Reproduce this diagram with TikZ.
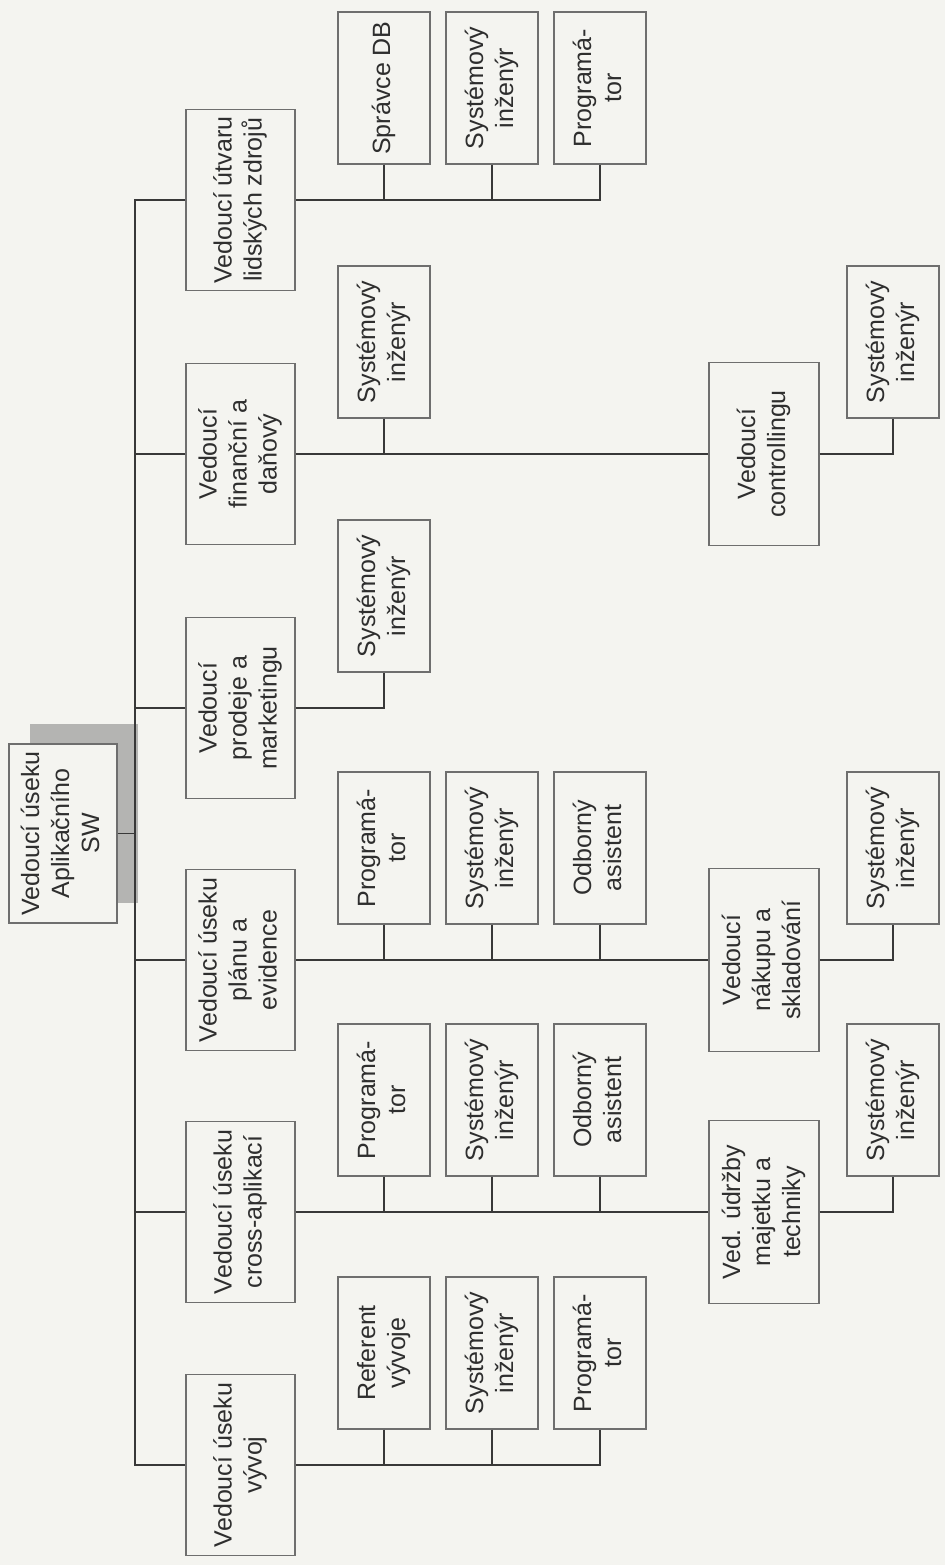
\documentclass[tikz,border=0pt]{standalone}
\usepackage{fontspec}
\setmainfont{Liberation Sans}
\usepackage{graphicx}
\usepackage{xcolor}
\usetikzlibrary{positioning}

\definecolor{paper}{HTML}{F4F4F0}
\definecolor{ink}{HTML}{2E2E2E}
\definecolor{boxline}{HTML}{6E6E6E}
\definecolor{wire}{HTML}{383838}
\definecolor{shadowgray}{HTML}{B4B4B2}

% text turned on its side, lines stacked
\newcommand{\vtext}[1]{\rotatebox{90}{\begin{tabular}{@{}c@{}}#1\end{tabular}}}

\begin{document}
\begin{tikzpicture}[x=1pt,y=-1pt,
    box/.style={draw=boxline, fill=paper, line width=1.1pt, inner sep=0pt, text=ink,
        font=\fontsize{25}{30}\selectfont},
    chief/.style={box, minimum width=108pt, minimum height=179pt},
    unit/.style={box, minimum width=109pt, minimum height=181pt},
    staff/.style={box, minimum width=92pt, minimum height=152pt},
    sub/.style={box, minimum width=110pt, minimum height=183pt},
    link/.style={draw=wire, line width=1.5pt}]
        \def\xa{384} % first staff column
        \def\xb{492} % second staff column
        \def\xc{600} % third staff column
        \def\xs{764} % sub unit column
        \def\xt{893} % staff of sub unit
        \def\up{112} % staff above the branch line
        \useasboundingbox[fill=paper] (0,0) rectangle (945,1565);
        \coordinate (trunk) at (135,0);
        % head of the section with its shadow
        \fill[shadowgray] (30,724) rectangle (138,903);
        \node[chief] (head) at (63,833.5) {\vtext{Vedoucí úseku\\Aplikačního\\SW}};
        % units
        \node[unit] (hr) at (240.5,200) {\vtext{Vedoucí útvaru\\lidských zdrojů}};
        \node[unit] (fin) at (240.5,454) {\vtext{Vedoucí\\finanční a\\daňový}};
        \node[unit] (sales) at (240.5,708) {\vtext{Vedoucí\\prodeje a\\marketingu}};
        \node[unit] (plan) at (240.5,960) {\vtext{Vedoucí úseku\\plánu a\\evidence}};
        \node[unit] (cross) at (240.5,1212) {\vtext{Vedoucí úseku\\cross-aplikací}};
        \node[unit] (dev) at (240.5,1465) {\vtext{Vedoucí úseku\\vývoj}};
        % staff of the units
        \node[staff] (hrA) at (\xa,200-\up) {\vtext{Správce DB}};
        \node[staff] (hrB) at (\xb,200-\up) {\vtext{Systémový\\inženýr}};
        \node[staff] (hrC) at (\xc,200-\up) {\vtext{Programá-\\tor}};
        \node[staff] (finA) at (\xa,454-\up) {\vtext{Systémový\\inženýr}};
        \node[staff] (salesA) at (\xa,708-\up) {\vtext{Systémový\\inženýr}};
        \node[staff] (planA) at (\xa,960-\up) {\vtext{Programá-\\tor}};
        \node[staff] (planB) at (\xb,960-\up) {\vtext{Systémový\\inženýr}};
        \node[staff] (planC) at (\xc,960-\up) {\vtext{Odborný\\asistent}};
        \node[staff] (crossA) at (\xa,1212-\up) {\vtext{Programá-\\tor}};
        \node[staff] (crossB) at (\xb,1212-\up) {\vtext{Systémový\\inženýr}};
        \node[staff] (crossC) at (\xc,1212-\up) {\vtext{Odborný\\asistent}};
        \node[staff] (devA) at (\xa,1465-\up) {\vtext{Referent\\vývoje}};
        \node[staff] (devB) at (\xb,1465-\up) {\vtext{Systémový\\inženýr}};
        \node[staff] (devC) at (\xc,1465-\up) {\vtext{Programá-\\tor}};
        % sub units and their staff
        \node[sub] (ctrl) at (\xs,454) {\vtext{Vedoucí\\controllingu}};
        \node[sub] (buy) at (\xs,960) {\vtext{Vedoucí\\nákupu a\\skladování}};
        \node[sub] (care) at (\xs,1212) {\vtext{Ved. údržby\\majetku a\\techniky}};
        \node[staff] (ctrlS) at (\xt,454-\up) {\vtext{Systémový\\inženýr}};
        \node[staff] (buyS) at (\xt,960-\up) {\vtext{Systémový\\inženýr}};
        \node[staff] (careS) at (\xt,1212-\up) {\vtext{Systémový\\inženýr}};
        % trunk
        \draw[link] (head.east) -- (head.east -| trunk);
        \draw[link] (hr.west) -- (hr.west -| trunk) -- (dev.west -| trunk) -- (dev.west);
        \draw[link] (fin.west) -- (fin.west -| trunk);
        \draw[link] (sales.west) -- (sales.west -| trunk);
        \draw[link] (plan.west) -- (plan.west -| trunk);
        \draw[link] (cross.west) -- (cross.west -| trunk);
        % branches
        \draw[link] (hr.east) -| (hrC.south);
        \draw[link] (hrA.south) -- (hrA.south |- hr.east);
        \draw[link] (hrB.south) -- (hrB.south |- hr.east);
        \draw[link] (fin.east) -- (ctrl.west);
        \draw[link] (finA.south) -- (finA.south |- fin.east);
        \draw[link] (ctrl.east) -| (ctrlS.south);
        \draw[link] (sales.east) -| (salesA.south);
        \draw[link] (plan.east) -- (buy.west);
        \draw[link] (planA.south) -- (planA.south |- plan.east);
        \draw[link] (planB.south) -- (planB.south |- plan.east);
        \draw[link] (planC.south) -- (planC.south |- plan.east);
        \draw[link] (buy.east) -| (buyS.south);
        \draw[link] (cross.east) -- (care.west);
        \draw[link] (crossA.south) -- (crossA.south |- cross.east);
        \draw[link] (crossB.south) -- (crossB.south |- cross.east);
        \draw[link] (crossC.south) -- (crossC.south |- cross.east);
        \draw[link] (care.east) -| (careS.south);
        \draw[link] (dev.east) -| (devC.south);
        \draw[link] (devA.south) -- (devA.south |- dev.east);
        \draw[link] (devB.south) -- (devB.south |- dev.east);
\end{tikzpicture}
\end{document}
